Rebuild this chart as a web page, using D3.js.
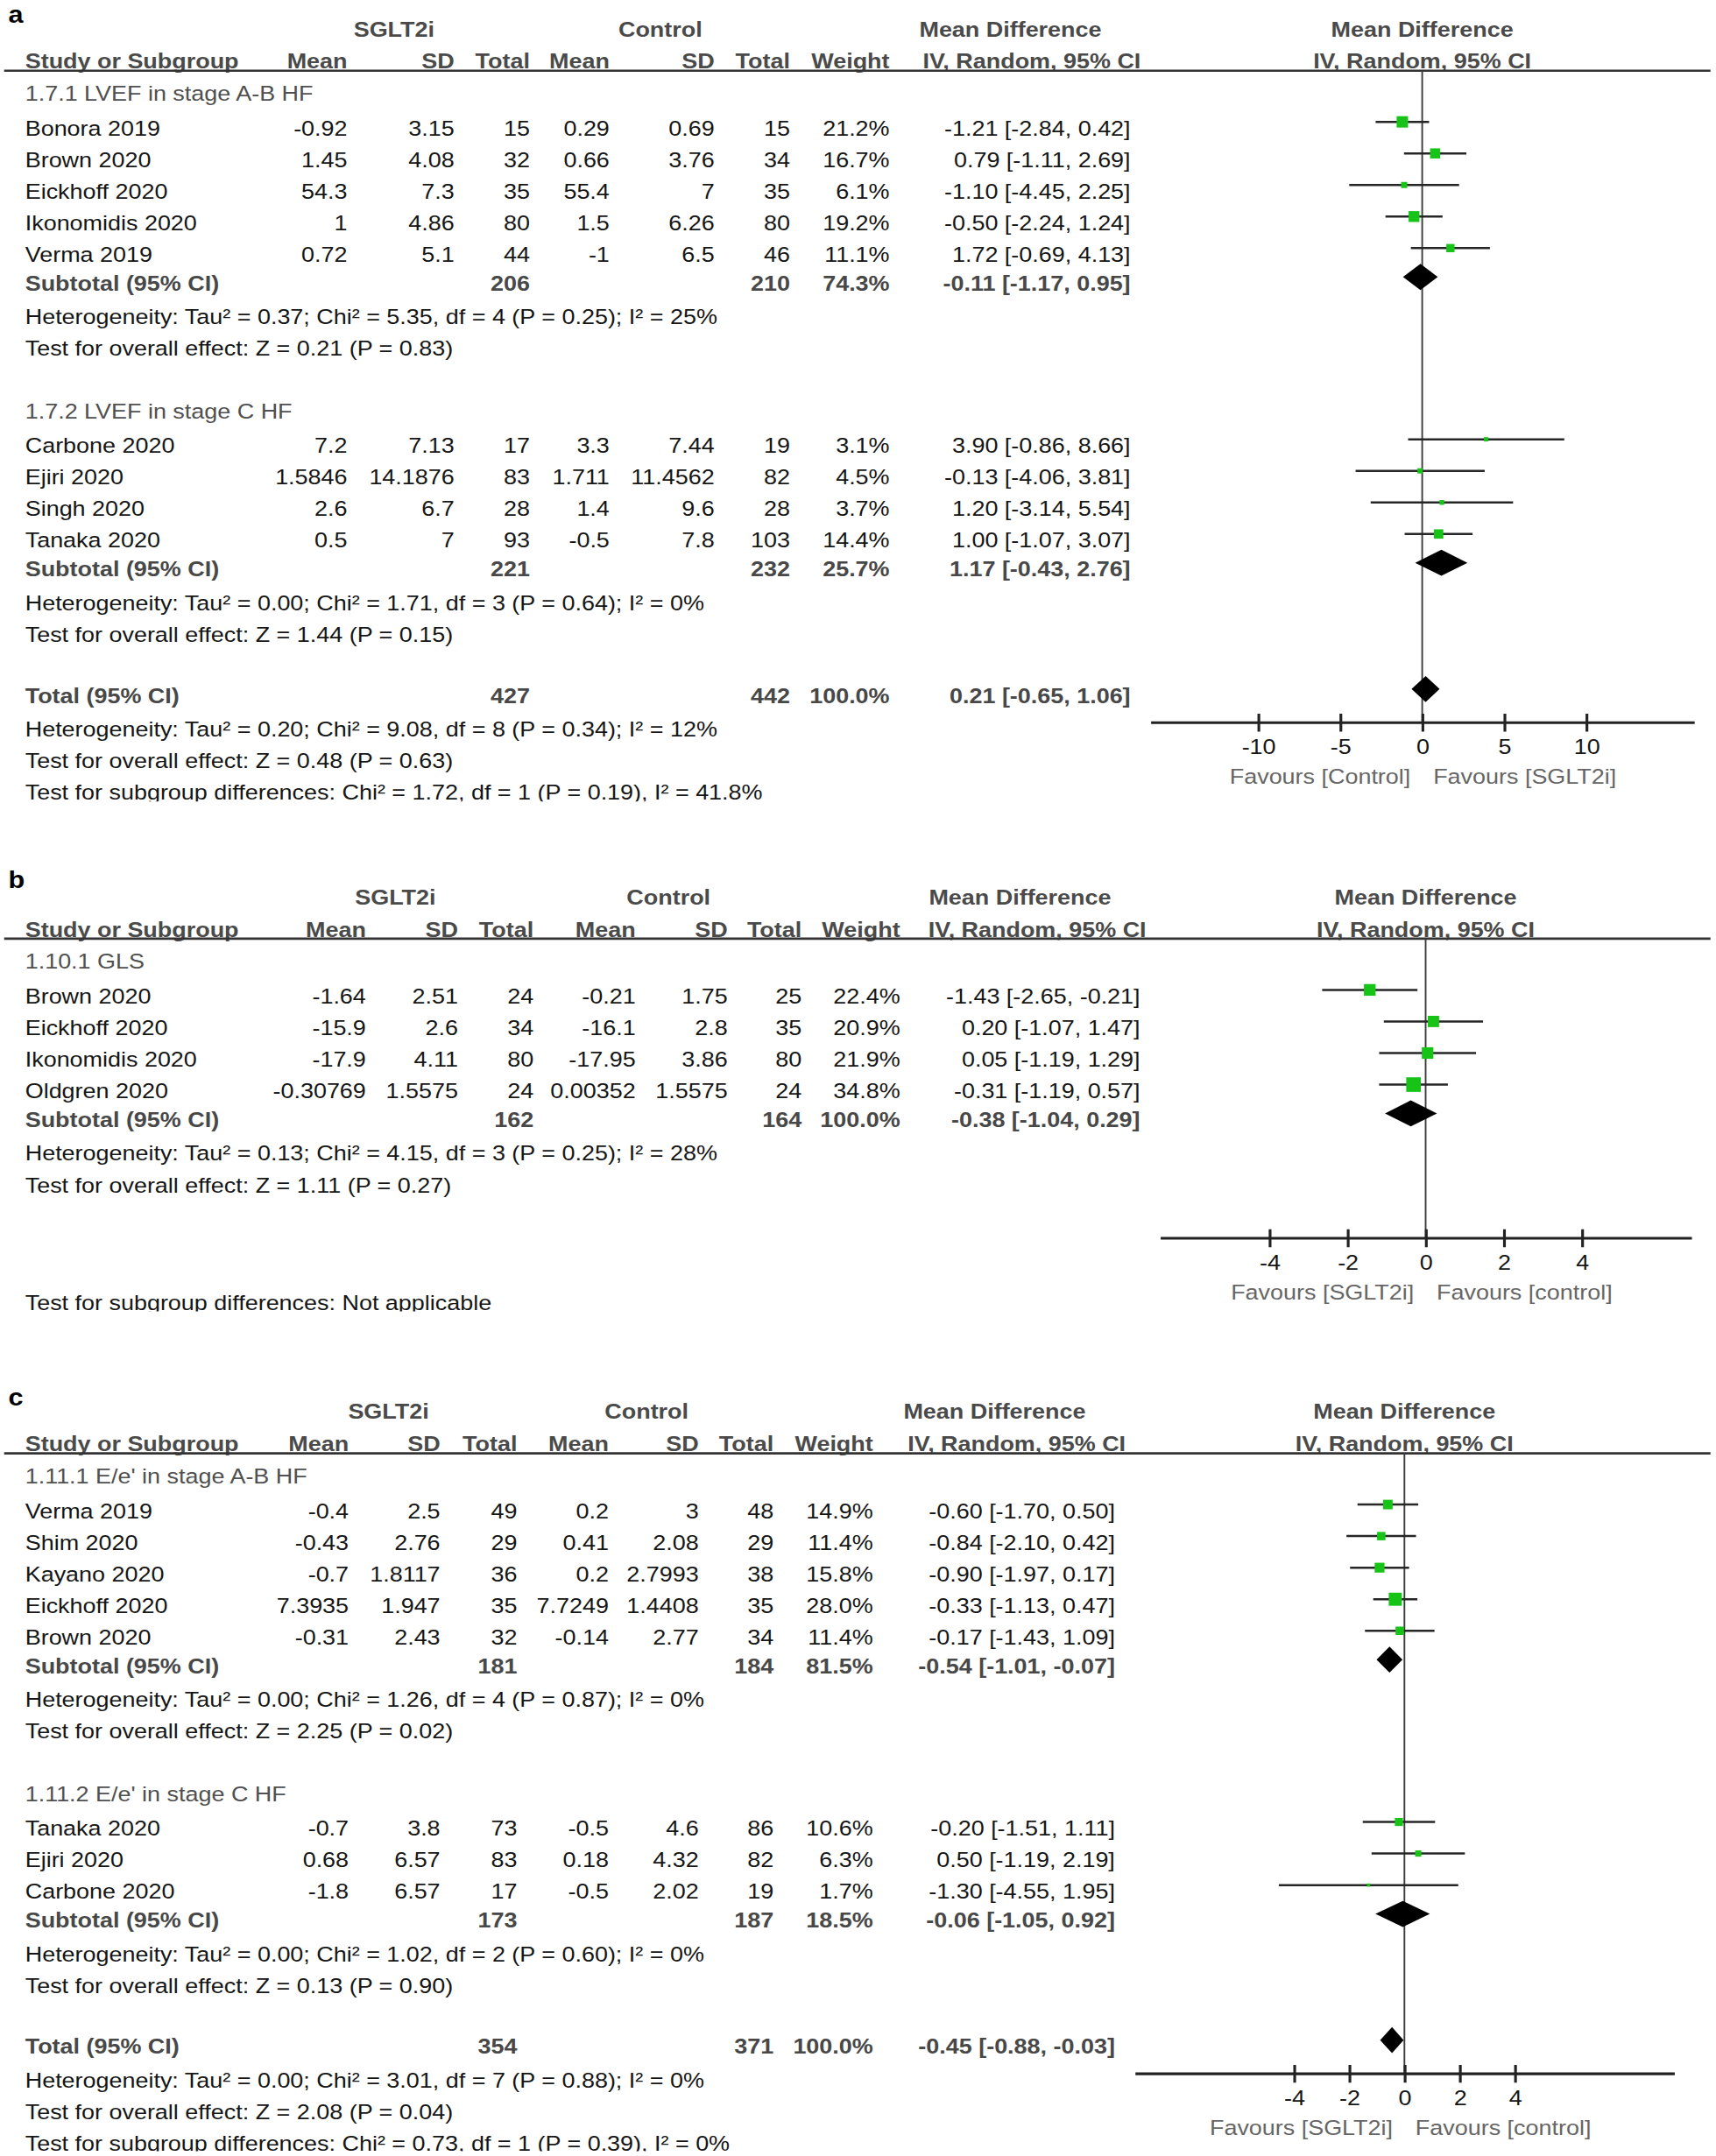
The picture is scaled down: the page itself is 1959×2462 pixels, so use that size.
<!DOCTYPE html>
<html>
<head>
<meta charset="utf-8">
<script src="https://d3js.org/d3.v7.min.js"></script>
<style>
  body { margin: 0; background: #fff; }
  text { font-family: "Liberation Sans", Arial, sans-serif; font-size: 17.2px; }
</style>
</head>
<body>
<div id="chart"></div>
<script>
// ---------- panel a : LVEF ----------
var aGroups = ["1.7.1 LVEF in stage A-B HF", "1.7.2 LVEF in stage C HF"];
var aStudy = ["Bonora 2019", "Brown 2020", "Eickhoff 2020", "Ikonomidis 2020", "Verma 2019",
              "Carbone 2020", "Ejiri 2020", "Singh 2020", "Tanaka 2020"];
var aGroupOf = [0, 0, 0, 0, 0, 1, 1, 1, 1];
var aMean1 = [-0.92, 1.45, 54.3, 1, 0.72, 7.2, 1.5846, 2.6, 0.5];
var aSD1 = [3.15, 4.08, 7.3, 4.86, 5.1, 7.13, 14.1876, 6.7, 7];
var aN1 = [15, 32, 35, 80, 44, 17, 83, 28, 93];
var aMean2 = [0.29, 0.66, 55.4, 1.5, -1, 3.3, 1.711, 1.4, -0.5];
var aSD2 = [0.69, 3.76, 7, 6.26, 6.5, 7.44, 11.4562, 9.6, 7.8];
var aN2 = [15, 34, 35, 80, 46, 19, 82, 28, 103];
var aWeight = [21.2, 16.7, 6.1, 19.2, 11.1, 3.1, 4.5, 3.7, 14.4];
var aMD = [-1.21, 0.79, -1.10, -0.50, 1.72, 3.90, -0.13, 1.20, 1.00];
var aLo = [-2.84, -1.11, -4.45, -2.24, -0.69, -0.86, -4.06, -3.14, -1.07];
var aHi = [0.42, 2.69, 2.25, 1.24, 4.13, 8.66, 3.81, 5.54, 3.07];
var aSubN1 = [206, 221], aSubN2 = [210, 232], aSubW = [74.3, 25.7];
var aSubMD = [-0.11, 1.17], aSubLo = [-1.17, -0.43], aSubHi = [0.95, 2.76];
var aHet = ["Heterogeneity: Tau² = 0.37; Chi² = 5.35, df = 4 (P = 0.25); I² = 25%",
            "Heterogeneity: Tau² = 0.00; Chi² = 1.71, df = 3 (P = 0.64); I² = 0%"];
var aTest = ["Test for overall effect: Z = 0.21 (P = 0.83)",
             "Test for overall effect: Z = 1.44 (P = 0.15)"];
var aTotal = [427, 442, 100.0, 0.21, -0.65, 1.06];
var aNotes = ["Heterogeneity: Tau² = 0.20; Chi² = 9.08, df = 8 (P = 0.34); I² = 12%",
              "Test for overall effect: Z = 0.48 (P = 0.63)",
              "Test for subgroup differences: Chi² = 1.72, df = 1 (P = 0.19), I² = 41.8%"];
var aTicks = [-10, -5, 0, 5, 10];
var aFavours = ["Favours [Control]", "Favours [SGLT2i]"];

// ---------- panel b : GLS ----------
var bGroups = ["1.10.1 GLS"];
var bStudy = ["Brown 2020", "Eickhoff 2020", "Ikonomidis 2020", "Oldgren 2020"];
var bGroupOf = [0, 0, 0, 0];
var bMean1 = [-1.64, -15.9, -17.9, -0.30769];
var bSD1 = [2.51, 2.6, 4.11, 1.5575];
var bN1 = [24, 34, 80, 24];
var bMean2 = [-0.21, -16.1, -17.95, 0.00352];
var bSD2 = [1.75, 2.8, 3.86, 1.5575];
var bN2 = [25, 35, 80, 24];
var bWeight = [22.4, 20.9, 21.9, 34.8];
var bMD = [-1.43, 0.20, 0.05, -0.31];
var bLo = [-2.65, -1.07, -1.19, -1.19];
var bHi = [-0.21, 1.47, 1.29, 0.57];
var bSubN1 = [162], bSubN2 = [164], bSubW = [100.0];
var bSubMD = [-0.38], bSubLo = [-1.04], bSubHi = [0.29];
var bHet = ["Heterogeneity: Tau² = 0.13; Chi² = 4.15, df = 3 (P = 0.25); I² = 28%"];
var bTest = ["Test for overall effect: Z = 1.11 (P = 0.27)"];
var bNotes = ["Test for subgroup differences: Not applicable"];
var bTicks = [-4, -2, 0, 2, 4];
var bFavours = ["Favours [SGLT2i]", "Favours [control]"];

// ---------- panel c : E/e' ----------
var cGroups = ["1.11.1 E/e' in stage A-B HF", "1.11.2 E/e' in stage C HF"];
var cStudy = ["Verma 2019", "Shim 2020", "Kayano 2020", "Eickhoff 2020", "Brown 2020",
              "Tanaka 2020", "Ejiri 2020", "Carbone 2020"];
var cGroupOf = [0, 0, 0, 0, 0, 1, 1, 1];
var cMean1 = [-0.4, -0.43, -0.7, 7.3935, -0.31, -0.7, 0.68, -1.8];
var cSD1 = [2.5, 2.76, 1.8117, 1.947, 2.43, 3.8, 6.57, 6.57];
var cN1 = [49, 29, 36, 35, 32, 73, 83, 17];
var cMean2 = [0.2, 0.41, 0.2, 7.7249, -0.14, -0.5, 0.18, -0.5];
var cSD2 = [3, 2.08, 2.7993, 1.4408, 2.77, 4.6, 4.32, 2.02];
var cN2 = [48, 29, 38, 35, 34, 86, 82, 19];
var cWeight = [14.9, 11.4, 15.8, 28.0, 11.4, 10.6, 6.3, 1.7];
var cMD = [-0.60, -0.84, -0.90, -0.33, -0.17, -0.20, 0.50, -1.30];
var cLo = [-1.70, -2.10, -1.97, -1.13, -1.43, -1.51, -1.19, -4.55];
var cHi = [0.50, 0.42, 0.17, 0.47, 1.09, 1.11, 2.19, 1.95];
var cSubN1 = [181, 173], cSubN2 = [184, 187], cSubW = [81.5, 18.5];
var cSubMD = [-0.54, -0.06], cSubLo = [-1.01, -1.05], cSubHi = [-0.07, 0.92];
var cHet = ["Heterogeneity: Tau² = 0.00; Chi² = 1.26, df = 4 (P = 0.87); I² = 0%",
            "Heterogeneity: Tau² = 0.00; Chi² = 1.02, df = 2 (P = 0.60); I² = 0%"];
var cTest = ["Test for overall effect: Z = 2.25 (P = 0.02)",
             "Test for overall effect: Z = 0.13 (P = 0.90)"];
var cTotal = [354, 371, 100.0, -0.45, -0.88, -0.03];
var cNotes = ["Heterogeneity: Tau² = 0.00; Chi² = 3.01, df = 7 (P = 0.88); I² = 0%",
              "Test for overall effect: Z = 2.08 (P = 0.04)",
              "Test for subgroup differences: Chi² = 0.73, df = 1 (P = 0.39), I² = 0%"];
var cTicks = [-4, -2, 0, 2, 4];
var cFavours = ["Favours [SGLT2i]", "Favours [control]"];

// ---------- drawing ----------
var W = 1250, H = 1571, SY = 0.92;
var svg = d3.select("#chart").append("svg")
    .attr("width", 1959).attr("height", 2462)
    .attr("viewBox", "0 0 " + W + " " + H);

function txt(g, x, y, s, o) {
  o = o || {};
  var t = g.append("text")
    .attr("transform", "translate(" + x + "," + y + ") scale(1," + SY + ")")
    .attr("text-anchor", o.anchor || "start")
    .attr("font-weight", o.bold ? "bold" : null)
    .attr("fill", o.fill || "#161616")
    .text(s);
  if (o.size) t.style("font-size", o.size);
  return t;
}
function ci(md, lo, hi) {
  return md.toFixed(2) + " [" + lo.toFixed(2) + ", " + hi.toFixed(2) + "]";
}

function drawPanel(p) {
  var clipId = "clip" + p.label;
  svg.append("clipPath").attr("id", clipId)
    .append("rect").attr("x", 0).attr("y", p.top - 30).attr("width", W).attr("height", p.clipBottom - p.top + 30);
  var g = svg.append("g").attr("clip-path", "url(#" + clipId + ")");
  var c = p.cols, hd = "#4a4a4a";

  // panel letter
  txt(g, 6, p.top + p.labelDy, p.label, {bold: true, size: "19.5px", fill: "#000"});
  txt(g, c.sg, p.top + 13, "SGLT2i", {anchor: "middle", bold: true, fill: hd});
  txt(g, c.ctl, p.top + 13, "Control", {anchor: "middle", bold: true, fill: hd});
  txt(g, c.md, p.top + 13, "Mean Difference", {anchor: "middle", bold: true, fill: hd});
  txt(g, c.fp, p.top + 13, "Mean Difference", {anchor: "middle", bold: true, fill: hd});

  var h2 = p.top + 36.5;
  txt(g, 18.3, h2, "Study or Subgroup", {bold: true, fill: hd});
  [["Mean", c.m1], ["SD", c.s1], ["Total", c.n1], ["Mean", c.m2], ["SD", c.s2], ["Total", c.n2],
   ["Weight", c.w], ["IV, Random, 95% CI", c.iv]].forEach(function(h) {
    txt(g, h[1], h2, h[0], {anchor: "end", bold: true, fill: hd});
  });
  txt(g, c.fp, h2, "IV, Random, 95% CI", {anchor: "middle", bold: true, fill: hd});
  var lineY = h2 + 1.5;
  g.append("line").attr("x1", 3).attr("x2", 1246).attr("y1", lineY).attr("y2", lineY)
    .attr("stroke", "#333").attr("stroke-width", 1.7);

  var x = d3.scaleLinear().domain([-p.R, p.R]).range(p.fx);
  var fg = g.append("g");

  function square(y, d, w) {
    fg.append("line").attr("x1", x(d[1])).attr("x2", x(d[2])).attr("y1", y - 10).attr("y2", y - 10)
      .attr("stroke", "#262626").attr("stroke-width", 1.6);
    var s = 1.8 * Math.sqrt(w);
    fg.append("rect").attr("x", x(d[0]) - s / 2).attr("y", y - 10 - s / 2)
      .attr("width", s).attr("height", s).attr("fill", "#17c317");
  }
  function diamond(y, d) {
    var cy = y - 10, hh = 9.5;
    fg.append("path")
      .attr("d", "M" + x(d[1]) + "," + cy + "L" + x(d[0]) + "," + (cy - hh) + "L" + x(d[2]) + "," + cy +
                 "L" + x(d[0]) + "," + (cy + hh) + "Z")
      .attr("fill", "#000");
  }
  function sumRow(y, label, n1, n2, w, d) {
    var o = {anchor: "end", bold: true, fill: "#484848"};
    txt(g, 18.3, y, label, {bold: true, fill: "#484848"});
    txt(g, c.n1, y, n1, o);
    txt(g, c.n2, y, n2, o);
    txt(g, c.w, y, w.toFixed(1) + "%", o);
    txt(g, c.ci, y, ci(d[0], d[1], d[2]), o);
    diamond(y, d);
  }

  var y = p.top + 60, D = p.data;
  D.groups.forEach(function(gname, gi) {
    if (gi > 0) y += 45.5;
    txt(g, 18.3, y, gname, {fill: "#505050"});
    y += 25.3;
    var first = true;
    D.study.forEach(function(s, i) {
      if (D.groupOf[i] !== gi) return;
      if (!first) y += 23;
      first = false;
      var o = {anchor: "end"};
      txt(g, 18.3, y, s);
      txt(g, c.m1, y, D.m1[i], o);
      txt(g, c.s1, y, D.s1[i], o);
      txt(g, c.n1, y, D.n1[i], o);
      txt(g, c.m2, y, D.m2[i], o);
      txt(g, c.s2, y, D.s2[i], o);
      txt(g, c.n2, y, D.n2[i], o);
      txt(g, c.w, y, D.w[i].toFixed(1) + "%", o);
      txt(g, c.ci, y, ci(D.md[i], D.lo[i], D.hi[i]), o);
      square(y, [D.md[i], D.lo[i], D.hi[i]], D.w[i]);
    });
    y += 21;
    sumRow(y, "Subtotal (95% CI)", D.subN1[gi], D.subN2[gi], D.subW[gi],
           [D.subMD[gi], D.subLo[gi], D.subHi[gi]]);
    y += 24.5;
    txt(g, 18.3, y, D.het[gi]);
    y += 23;
    txt(g, 18.3, y, D.test[gi]);
  });

  var axisY;
  if (D.total) {
    y += 44.5;
    sumRow(y, "Total (95% CI)", D.total[0], D.total[1], D.total[2], D.total.slice(3));
    axisY = y + 14;
    y += 24.5;
    D.notes.forEach(function(n, i) {
      if (i > 0) y += 23;
      txt(g, 18.3, y, n);
    });
  } else {
    axisY = y + 33;
    txt(g, 18.3, y + 85.5, D.notes[0]);
  }

  // zero line
  g.append("line").attr("x1", x(0)).attr("x2", x(0)).attr("y1", lineY).attr("y2", axisY)
    .attr("stroke", "#3a3a3a").attr("stroke-width", 1.2);
  fg.raise();

  var ax = g.append("g").attr("transform", "translate(0," + axisY + ")")
    .call(d3.axisBottom(x).tickValues(D.ticks).tickSize(7).tickSizeOuter(0)
      .tickFormat(function(d) { return String(d); }));
  ax.select(".domain").attr("stroke", "#222").attr("stroke-width", 2);
  ax.selectAll(".tick line").attr("y1", -6).attr("stroke", "#222").attr("stroke-width", 2);
  ax.selectAll(".tick text").attr("y", null).attr("dy", null)
    .attr("transform", "translate(0,23.5) scale(1," + SY + ")")
    .attr("fill", "#161616");
  ax.attr("font-family", null).attr("font-size", null);

  txt(g, x(0) - 8.5, axisY + 45, D.favours[0], {anchor: "end", fill: "#666"});
  txt(g, x(0) + 8, axisY + 45, D.favours[1], {fill: "#666"});
}

drawPanel({
  label: "a", top: 13.5, labelDy: 3, clipBottom: 584, R: 16.57, fx: [838, 1234],
  cols: {sg: 287, ctl: 481, md: 736, fp: 1036, m1: 253, s1: 331, n1: 386, m2: 444, s2: 520.5,
         n2: 575.5, w: 648, iv: 831, ci: 823.5},
  data: {groups: aGroups, study: aStudy, groupOf: aGroupOf, m1: aMean1, s1: aSD1, n1: aN1,
         m2: aMean2, s2: aSD2, n2: aN2, w: aWeight, md: aMD, lo: aLo, hi: aHi,
         subN1: aSubN1, subN2: aSubN2, subW: aSubW, subMD: aSubMD, subLo: aSubLo, subHi: aSubHi,
         het: aHet, test: aTest, total: aTotal, notes: aNotes, ticks: aTicks, favours: aFavours}
});

drawPanel({
  label: "b", top: 646, labelDy: 1, clipBottom: 955.5, R: 6.8, fx: [845, 1232],
  cols: {sg: 288, ctl: 487, md: 743, fp: 1038.5, m1: 266.6, s1: 333.7, n1: 388.7, m2: 463, s2: 530,
         n2: 584, w: 655.7, iv: 835, ci: 830.5},
  data: {groups: bGroups, study: bStudy, groupOf: bGroupOf, m1: bMean1, s1: bSD1, n1: bN1,
         m2: bMean2, s2: bSD2, n2: bN2, w: bWeight, md: bMD, lo: bLo, hi: bHi,
         subN1: bSubN1, subN2: bSubN2, subW: bSubW, subMD: bSubMD, subLo: bSubLo, subHi: bSubHi,
         het: bHet, test: bTest, total: null, notes: bNotes, ticks: bTicks, favours: bFavours}
});

drawPanel({
  label: "c", top: 1021, labelDy: 3, clipBottom: 1567.5, R: 9.77, fx: [826.6, 1219.5],
  cols: {sg: 283, ctl: 471, md: 724.5, fp: 1023, m1: 254, s1: 320.7, n1: 376.7, m2: 443.4, s2: 509,
         n2: 563.5, w: 636, iv: 820, ci: 812.2},
  data: {groups: cGroups, study: cStudy, groupOf: cGroupOf, m1: cMean1, s1: cSD1, n1: cN1,
         m2: cMean2, s2: cSD2, n2: cN2, w: cWeight, md: cMD, lo: cLo, hi: cHi,
         subN1: cSubN1, subN2: cSubN2, subW: cSubW, subMD: cSubMD, subLo: cSubLo, subHi: cSubHi,
         het: cHet, test: cTest, total: cTotal, notes: cNotes, ticks: cTicks, favours: cFavours}
});
</script>
</body>
</html>
